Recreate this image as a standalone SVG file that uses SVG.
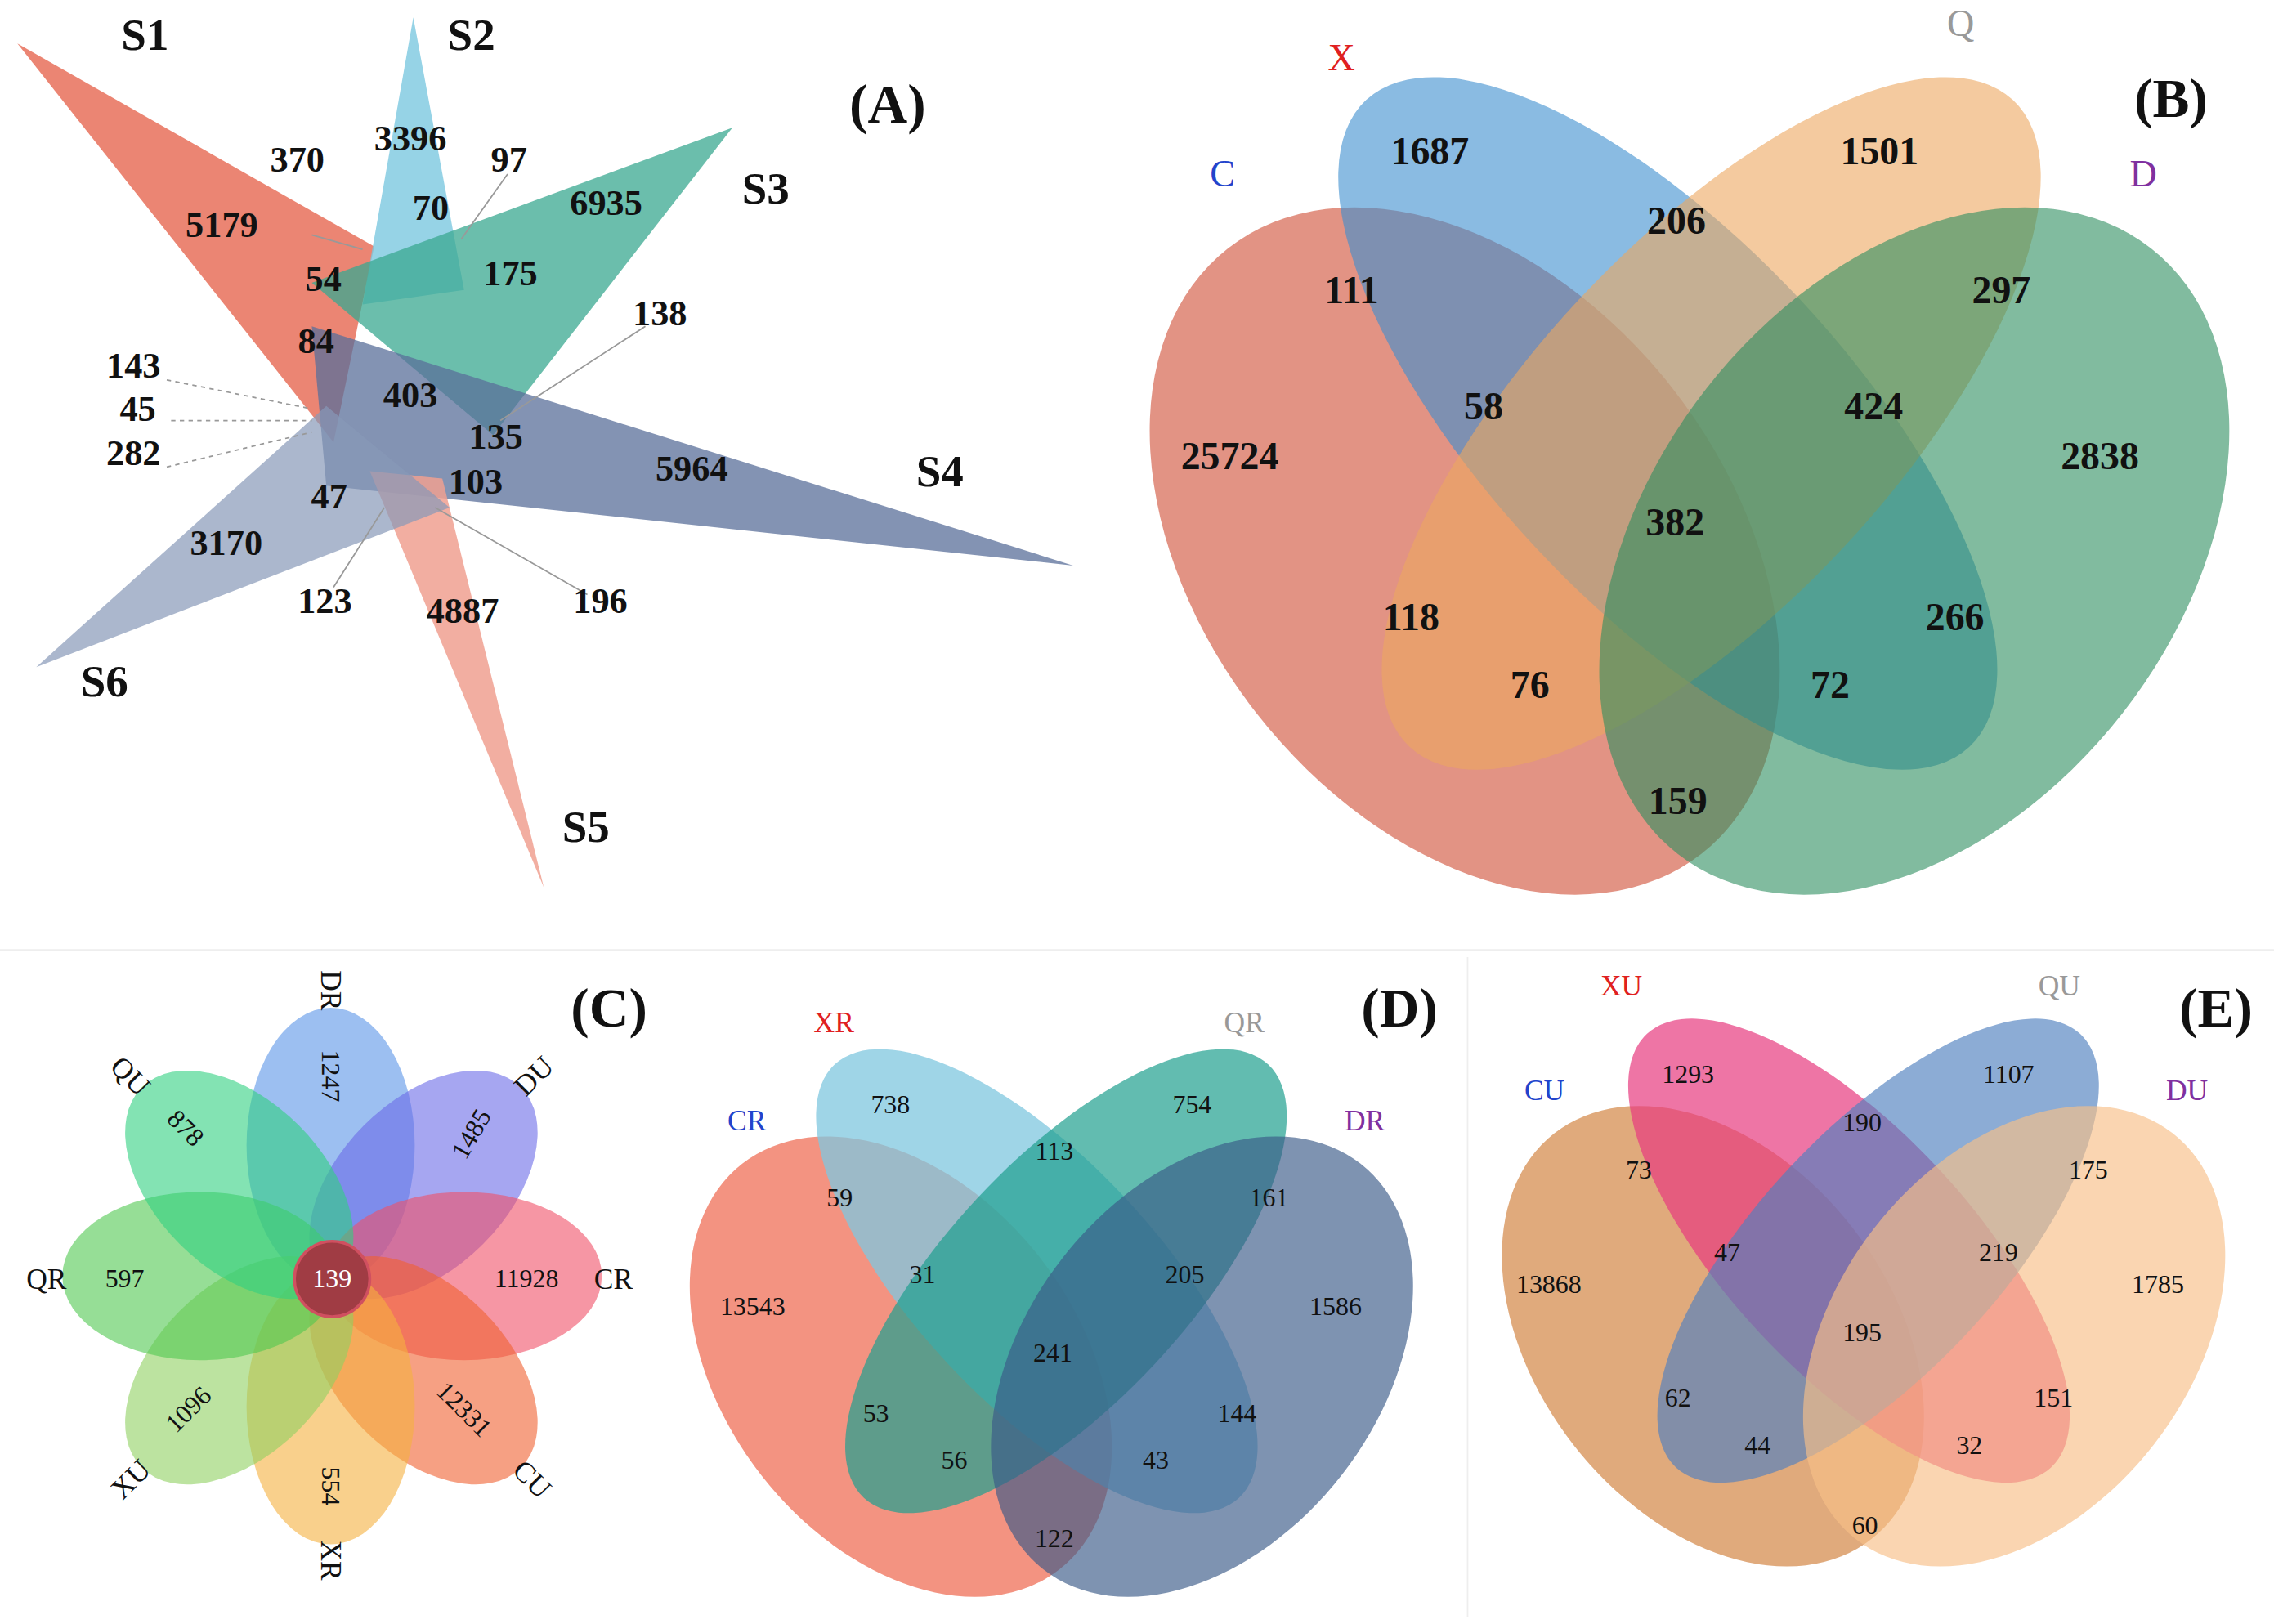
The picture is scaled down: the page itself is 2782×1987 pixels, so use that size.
<svg xmlns="http://www.w3.org/2000/svg" width="2782" height="1987" viewBox="0 0 2782 1987">
<style>
text{font-family:"Liberation Serif","Times New Roman",serif;text-anchor:middle;dominant-baseline:central;fill:#111}
.a{font-size:25px;font-weight:bold}
.s{font-size:31px;font-weight:bold}
.p{font-size:38px;font-weight:bold}
.b{font-size:27px;font-weight:bold}
.n{font-size:18px}
.l{font-size:20px}
.ld{stroke:#999;stroke-width:1;fill:none}
</style>
<defs>
<ellipse id="e1" cx="1010" cy="380" rx="182" ry="265" transform="rotate(-38 1010 380)"/>
<ellipse id="e2" cx="1150" cy="292" rx="125" ry="305" transform="rotate(-43 1150 292)"/>
<ellipse id="e3" cx="1180" cy="292" rx="125" ry="305" transform="rotate(43 1180 292)"/>
<ellipse id="e4" cx="1320" cy="380" rx="182" ry="265" transform="rotate(38 1320 380)"/>
</defs>
<rect width="2782" height="1987" fill="#fff"/>
<g transform="scale(1.7742)">
<line x1="0" y1="655" x2="1568" y2="655" stroke="#eee"/>
<line x1="1012" y1="660" x2="1012" y2="1115" stroke="#eee"/>
<g id="A">
<polygon points="12,30 258,170 230,305" fill="#e8705a" opacity="0.85"/>
<polygon points="285,12 250,210 320,200" fill="#7cc8e0" opacity="0.8"/>
<polygon points="505,88 215,195 340,300" fill="#3aa890" opacity="0.75"/>
<polygon points="740,390 215,225 225,335" fill="#5a6f9a" opacity="0.75"/>
<polygon points="375,612 255,325 305,330" fill="#f0a090" opacity="0.85"/>
<polygon points="25,460 225,280 310,350" fill="#8898b8" opacity="0.7"/>
<path class="ld" d="M215,162 L250,172 M350,120 L318,165 M445,225 L345,290 M405,410 L300,350 M230,405 L265,350"/>
<path class="ld" d="M115,262 L215,282 M118,290 L215,290 M115,322 L215,298" stroke-dasharray="3,3"/>
<text class="s" x="100" y="24">S1</text><text class="s" x="325" y="24">S2</text><text class="s" x="528" y="130">S3</text>
<text class="s" x="648" y="325">S4</text><text class="s" x="404" y="570">S5</text><text class="s" x="72" y="470">S6</text>
<text class="p" x="612" y="72">(A)</text>
<text class="a" x="205" y="110">370</text><text class="a" x="283" y="95">3396</text><text class="a" x="351" y="110">97</text>
<text class="a" x="153" y="155">5179</text><text class="a" x="297" y="143">70</text><text class="a" x="418" y="140">6935</text>
<text class="a" x="223" y="192">54</text><text class="a" x="352" y="188">175</text><text class="a" x="455" y="216">138</text>
<text class="a" x="218" y="235">84</text><text class="a" x="92" y="252">143</text><text class="a" x="283" y="272">403</text>
<text class="a" x="95" y="282">45</text><text class="a" x="342" y="301">135</text><text class="a" x="92" y="312">282</text>
<text class="a" x="477" y="323">5964</text><text class="a" x="227" y="342">47</text><text class="a" x="328" y="332">103</text>
<text class="a" x="156" y="374">3170</text><text class="a" x="224" y="414">123</text><text class="a" x="319" y="421">4887</text>
<text class="a" x="414" y="414">196</text>
</g>
<g id="B">
<use href="#e1" fill="#d9705c" opacity="0.75"/>
<use href="#e2" fill="#3d8fd0" opacity="0.6"/>
<use href="#e3" fill="#eda860" opacity="0.6"/>
<use href="#e4" fill="#2e8f60" opacity="0.6"/>
<text x="925" y="40" style="fill:#e02020;font-size:26px">X</text>
<text x="1352" y="16" style="fill:#999;font-size:26px">Q</text>
<text x="843" y="120" style="fill:#2244cc;font-size:26px">C</text>
<text x="1478" y="120" style="fill:#8030a0;font-size:26px">D</text>
<text class="p" x="1497" y="68">(B)</text>
<text class="b" x="986" y="104">1687</text><text class="b" x="1296" y="104">1501</text><text class="b" x="1156" y="152">206</text>
<text class="b" x="932" y="200">111</text><text class="b" x="1380" y="200">297</text><text class="b" x="1023" y="280">58</text>
<text class="b" x="1292" y="280">424</text><text class="b" x="848" y="314">25724</text><text class="b" x="1448" y="314">2838</text>
<text class="b" x="1155" y="360">382</text><text class="b" x="973" y="425">118</text><text class="b" x="1348" y="425">266</text>
<text class="b" x="1055" y="472">76</text><text class="b" x="1262" y="472">72</text><text class="b" x="1157" y="552">159</text>
</g>
<g id="C">
<ellipse cx="228" cy="790" rx="58" ry="95" fill="#5a95e8" opacity="0.6"/>
<ellipse cx="292" cy="817" rx="58" ry="95" transform="rotate(45 292 817)" fill="#6a6ae8" opacity="0.6"/>
<ellipse cx="320" cy="880" rx="95" ry="58" fill="#f05068" opacity="0.6"/>
<ellipse cx="292" cy="945" rx="58" ry="95" transform="rotate(-45 292 945)" fill="#f06030" opacity="0.6"/>
<ellipse cx="228" cy="970" rx="58" ry="95" fill="#f5b040" opacity="0.6"/>
<ellipse cx="165" cy="945" rx="58" ry="95" transform="rotate(45 165 945)" fill="#90d060" opacity="0.6"/>
<ellipse cx="138" cy="880" rx="95" ry="58" fill="#50c850" opacity="0.6"/>
<ellipse cx="165" cy="817" rx="58" ry="95" transform="rotate(-45 165 817)" fill="#30d080" opacity="0.6"/>
<circle cx="229" cy="882" r="26" fill="#a03c44" stroke="#d05060" stroke-width="2"/>
<text class="l" x="228" y="683" transform="rotate(90 228 683)">DR</text>
<text class="n" x="228" y="742" transform="rotate(90 228 742)">1247</text>
<text class="l" x="368" y="742" transform="rotate(-45 368 742)">DU</text>
<text class="n" x="325" y="782" transform="rotate(-60 325 782)">1485</text>
<text class="l" x="90" y="742" transform="rotate(45 90 742)">QU</text>
<text class="n" x="128" y="778" transform="rotate(45 128 778)">878</text>
<text class="l" x="32" y="882">QR</text><text class="n" x="86" y="882">597</text>
<text class="n" x="229" y="882" style="fill:#fff">139</text>
<text class="n" x="363" y="882">11928</text><text class="l" x="423" y="882">CR</text>
<text class="n" x="130" y="972" transform="rotate(-45 130 972)">1096</text>
<text class="n" x="320" y="972" transform="rotate(45 320 972)">12331</text>
<text class="l" x="90" y="1020" transform="rotate(-45 90 1020)">XU</text>
<text class="l" x="367" y="1020" transform="rotate(45 367 1020)">CU</text>
<text class="n" x="228" y="1025" transform="rotate(90 228 1025)">554</text>
<text class="l" x="228" y="1076" transform="rotate(90 228 1076)">XR</text>
<text class="p" x="420" y="695">(C)</text>
</g>
<g id="D">
<g transform="translate(725 718) scale(0.67) translate(-1165 -45)">
<use href="#e1" fill="#f07058" opacity="0.75"/>
<use href="#e2" fill="#80c8e0" opacity="0.75"/>
<use href="#e3" fill="#20a090" opacity="0.7"/>
<use href="#e4" fill="#3a5a88" opacity="0.65"/>
</g>
<text class="l" x="575" y="705" style="fill:#e02020">XR</text><text class="l" x="858" y="705" style="fill:#999">QR</text>
<text class="l" x="515" y="773" style="fill:#2244cc">CR</text><text class="l" x="941" y="773" style="fill:#8030a0">DR</text>
<text class="p" x="965" y="695">(D)</text>
<text class="n" x="614" y="762">738</text><text class="n" x="822" y="762">754</text><text class="n" x="727" y="794">113</text>
<text class="n" x="579" y="826">59</text><text class="n" x="875" y="826">161</text><text class="n" x="636" y="879">31</text>
<text class="n" x="817" y="879">205</text><text class="n" x="519" y="901">13543</text><text class="n" x="921" y="901">1586</text>
<text class="n" x="726" y="933">241</text><text class="n" x="604" y="975">53</text><text class="n" x="853" y="975">144</text>
<text class="n" x="658" y="1007">56</text><text class="n" x="797" y="1007">43</text><text class="n" x="727" y="1061">122</text>
</g>
<g id="E">
<g transform="translate(1285 697) scale(0.67) translate(-1165 -45)">
<use href="#e1" fill="#d9955c" opacity="0.8"/>
<use href="#e2" fill="#e83c80" opacity="0.7"/>
<use href="#e3" fill="#5080c0" opacity="0.65"/>
<use href="#e4" fill="#f8c088" opacity="0.65"/>
</g>
<text class="l" x="1118" y="680" style="fill:#e02020">XU</text><text class="l" x="1420" y="680" style="fill:#999">QU</text>
<text class="l" x="1065" y="752" style="fill:#2244cc">CU</text><text class="l" x="1508" y="752" style="fill:#8030a0">DU</text>
<text class="p" x="1528" y="695">(E)</text>
<text class="n" x="1164" y="741">1293</text><text class="n" x="1385" y="741">1107</text><text class="n" x="1284" y="774">190</text>
<text class="n" x="1130" y="807">73</text><text class="n" x="1440" y="807">175</text><text class="n" x="1191" y="864">47</text>
<text class="n" x="1378" y="864">219</text><text class="n" x="1068" y="886">13868</text><text class="n" x="1488" y="886">1785</text>
<text class="n" x="1284" y="919">195</text><text class="n" x="1157" y="964">62</text><text class="n" x="1416" y="964">151</text>
<text class="n" x="1212" y="997">44</text><text class="n" x="1358" y="997">32</text><text class="n" x="1286" y="1052">60</text>
</g>
</g>
</svg>
